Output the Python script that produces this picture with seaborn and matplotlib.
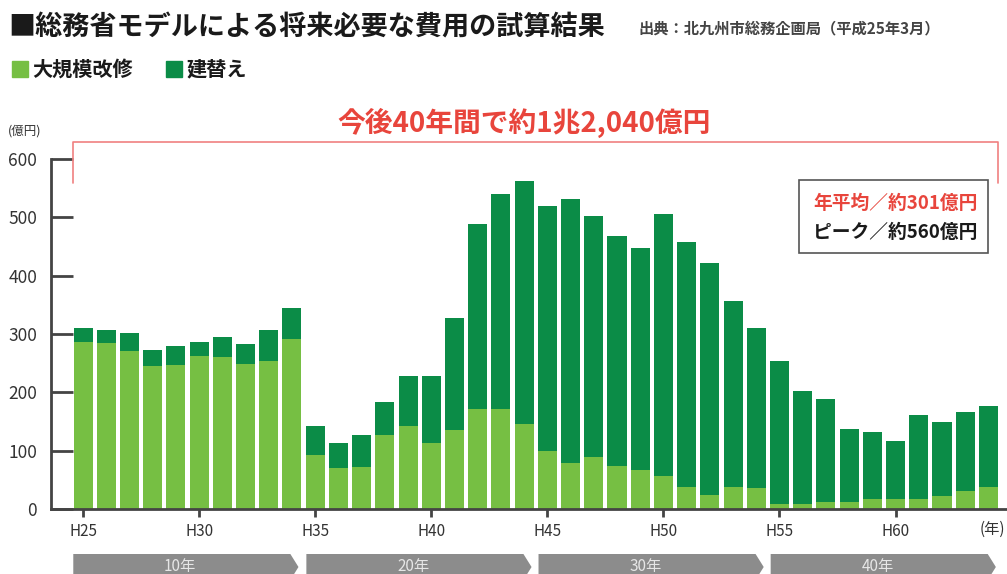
import matplotlib
matplotlib.use("Agg")
import matplotlib.pyplot as plt
import seaborn as sns
import pandas as pd
from matplotlib.patches import Polygon, Rectangle
from matplotlib.transforms import blended_transform_factory

sns.set_theme(style="white")
plt.rcParams['font.family'] = ['Noto Sans CJK JP', 'DejaVu Sans']

# ---- data (億円) ----
years = [f"H{y}" for y in range(25, 65)]
renovation = [287, 285, 271, 246, 247, 263, 261, 249, 254, 291,
              93, 70, 72, 127, 142, 114, 135, 171, 171, 146,
              99, 79, 90, 74, 68, 57, 39, 25, 38, 36,
              9, 9, 13, 13, 17, 17, 17, 23, 31, 38]
total = [311, 307, 302, 273, 280, 287, 295, 283, 306, 344,
         143, 114, 127, 184, 228, 228, 328, 488, 539, 562,
         519, 531, 502, 467, 447, 505, 458, 421, 357, 310,
         253, 203, 189, 137, 132, 117, 161, 149, 167, 176]
rebuild = [t - r for t, r in zip(total, renovation)]
tick_labels = ["H25", "H30", "H35", "H40", "H45", "H50", "H55", "H60"]
period_labels = ["10年", "20年", "30年", "40年"]

df = pd.DataFrame({"year": years, "total": total, "renovation": renovation})

LIGHT = "#76bf43"
DARK = "#0b8c47"
RED = "#e8453c"

W, H = 1007, 574
fig = plt.figure(figsize=(W / 100, H / 100), dpi=100)
ax = fig.add_axes([51 / W, (574 - 509.3) / H, (W - 51) / W, (509.3 - 158.7) / H])

sns.barplot(data=df, x="year", y="total", color=DARK, width=0.82,
            saturation=1, ax=ax, zorder=2, edgecolor="none", linewidth=0)
sns.barplot(data=df, x="year", y="renovation", color=LIGHT, width=0.82,
            saturation=1, ax=ax, zorder=3, edgecolor="none", linewidth=0)

ax.set_ylim(0, 600)
ax.set_xlim(-1.38, 39.8)
ax.set_xlabel("")
ax.set_ylabel("")

for s in ["top", "right"]:
    ax.spines[s].set_visible(False)
for s in ["left", "bottom"]:
    ax.spines[s].set_color("#444444")
    ax.spines[s].set_linewidth(2)
    ax.spines[s].set_zorder(4)

ax.set_yticks([0, 100, 200, 300, 400, 500, 600])
ax.tick_params(axis="y", left=True, direction="in", length=16, width=2,
               color="#444444", labelsize=12.5, labelcolor="#333333", pad=10)
ax.set_xticks([0, 5, 10, 15, 20, 25, 30, 35])
ax.set_xticklabels(tick_labels)
ax.tick_params(axis="x", bottom=True, direction="out", length=6, width=2,
               color="#444444", labelsize=11, labelcolor="#333333", pad=4)

# unit labels
fig.text(8 / W, 1 - 131 / H, "(億円)", fontsize=9, color="#333333", va="center")
fig.text(1005 / W, 1 - 529 / H, "(年)", fontsize=11, color="#333333",
         ha="right", va="center")

# title, source, legend
fig.text(8 / W, 1 - 27 / H, "■総務省モデルによる将来必要な費用の試算結果",
         fontsize=19.5, fontweight="bold", color="#1a1a1a", va="center")
fig.text(638 / W, 1 - 28 / H, "出典：北九州市総務企画局（平成25年3月）",
         fontsize=11, fontweight="bold", color="#444444", va="center")
fig.patches.append(Rectangle((12 / W, 1 - 77 / H), 16 / W, 16 / H,
                             transform=fig.transFigure, color=LIGHT))
fig.text(32 / W, 1 - 69 / H, "大規模改修", fontsize=14.5, fontweight="bold",
         color="#1a1a1a", va="center")
fig.patches.append(Rectangle((166 / W, 1 - 77 / H), 16 / W, 16 / H,
                             transform=fig.transFigure, color=DARK))
fig.text(186 / W, 1 - 69 / H, "建替え", fontsize=14.5, fontweight="bold",
         color="#1a1a1a", va="center")

# red bracket and total annotation
bx0, bx1 = -0.42, 39.42
ax.plot([bx0, bx0, bx1, bx1], [559, 628.5, 628.5, 559], color="#f08080",
        lw=1.2, clip_on=False, zorder=5)
ax.text(19.0, 662, "今後40年間で約1兆2,040億円", fontsize=20,
        fontweight="bold", color=RED, ha="center", va="center", clip_on=False)

# info box
box_x0 = (799 - 83) / 23.22
box_x1 = (988 - 83) / 23.22
ax.add_patch(Rectangle((box_x0, (509.3 - 253) / 0.5844), box_x1 - box_x0,
                       (253 - 180) / 0.5844, fill=True, facecolor="white",
                       edgecolor="#555555", lw=1.2, zorder=6))
tx = (813 - 83) / 23.22
ax.text(tx, (509.3 - 203) / 0.5844, "年平均／約301億円", fontsize=13.5,
        fontweight="bold", color=RED, va="center", zorder=7)
ax.text(tx, (509.3 - 232) / 0.5844, "ピーク／約560億円", fontsize=13.5,
        fontweight="bold", color="#1a1a1a", va="center", zorder=7)

# period arrows at the bottom
tr = blended_transform_factory(ax.transData, fig.transFigure)
y_top = 1 - 554 / H
y_bot = 1 - 580 / H
y_mid = (y_top + y_bot) / 2
starts = [-0.42, 9.62, 19.62, 29.62]
for x0, lab in zip(starts, period_labels):
    x1 = x0 + 9.35
    tip = x0 + 9.7
    poly = Polygon([(x0, y_top), (x1, y_top), (tip, y_mid), (x1, y_bot), (x0, y_bot)],
                   closed=True, transform=tr, facecolor="#8c8c8c",
                   edgecolor="none", clip_on=False, zorder=1)
    ax.add_patch(poly)
    ax.text(x0 + 4.6, 1 - 566 / H, lab, transform=tr, fontsize=11,
            color="#e6e6e6", ha="center", va="center", clip_on=False, zorder=2)

fig.savefig("out.png", dpi=100)
